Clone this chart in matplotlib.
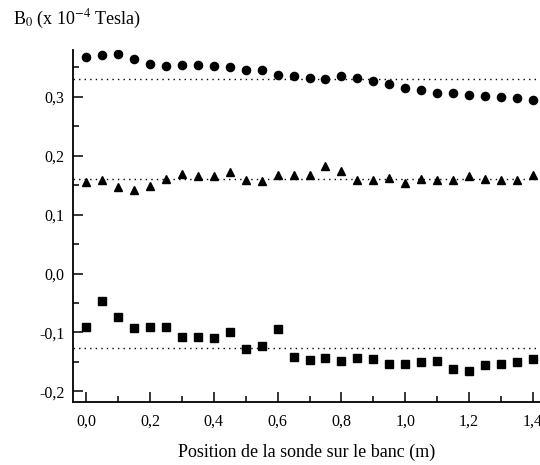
import matplotlib
matplotlib.use('Agg')
import matplotlib.pyplot as plt
from matplotlib.ticker import MultipleLocator, FuncFormatter

plt.rcParams['font.family'] = 'Liberation Serif'
plt.rcParams['mathtext.fontset'] = 'stix'

# position sur le banc (m)
x = [0.00, 0.05, 0.10, 0.15, 0.20, 0.25, 0.30, 0.35, 0.40, 0.45,
     0.50, 0.55, 0.60, 0.65, 0.70, 0.75, 0.80, 0.85, 0.90, 0.95,
     1.00, 1.05, 1.10, 1.15, 1.20, 1.25, 1.30, 1.35, 1.40]

b_circles = [0.368, 0.371, 0.373, 0.364, 0.356, 0.353, 0.354, 0.354, 0.352, 0.350,
             0.346, 0.345, 0.337, 0.335, 0.332, 0.331, 0.336, 0.332, 0.326, 0.321,
             0.315, 0.311, 0.306, 0.307, 0.303, 0.302, 0.300, 0.298, 0.294]

b_triangles = [0.155, 0.158, 0.147, 0.141, 0.149, 0.160, 0.169, 0.165, 0.165, 0.173,
               0.159, 0.157, 0.167, 0.168, 0.167, 0.182, 0.174, 0.159, 0.159, 0.162,
               0.153, 0.160, 0.159, 0.159, 0.165, 0.161, 0.159, 0.159, 0.167]

b_squares = [-0.090, -0.047, -0.074, -0.092, -0.091, -0.091, -0.107, -0.108, -0.109, -0.099,
             -0.128, -0.123, -0.095, -0.142, -0.147, -0.143, -0.148, -0.144, -0.146, -0.153,
             -0.153, -0.151, -0.149, -0.162, -0.166, -0.156, -0.154, -0.151, -0.146]

# valeurs theoriques (lignes pointillees)
theo = [0.330, 0.160, -0.126]

fig = plt.figure(figsize=(5.4, 4.65), dpi=100)
ax = fig.add_axes([0.1346, 0.1348, 0.8654, 0.7577])

ax.plot(x, b_circles, 'o', color='black', markersize=5.9, linestyle='none')
ax.plot(x, b_triangles, '^', color='black', markersize=6.3, linestyle='none')
ax.plot(x, b_squares, 's', color='black', markersize=5.1, linestyle='none')

for v in theo:
    ax.axhline(v, color='black', lw=1.0, linestyle=(0, (1, 3)))

ax.set_xlim(-0.042, 1.422)
ax.set_ylim(-0.2187, 0.3795)

ax.xaxis.set_major_locator(MultipleLocator(0.2))
ax.xaxis.set_minor_locator(MultipleLocator(0.1))
ax.yaxis.set_major_locator(MultipleLocator(0.1))
ax.yaxis.set_minor_locator(MultipleLocator(0.05))

fmt = FuncFormatter(lambda v, p: ('%.1f' % v).replace('.', ',').replace('-0,0', '0,0'))
ax.xaxis.set_major_formatter(fmt)
ax.yaxis.set_major_formatter(fmt)

ax.spines['top'].set_visible(False)
ax.spines['right'].set_visible(False)
ax.spines['left'].set_linewidth(1.3)
ax.spines['bottom'].set_linewidth(1.3)

ax.tick_params(which='major', direction='in', length=7, width=1.1, labelsize=11.5)
ax.tick_params(which='minor', direction='in', length=4, width=1.1)
ax.tick_params(axis='x', pad=8)
ax.tick_params(axis='y', pad=6)

ax.set_xlabel('Position de la sonde sur le banc (m)', fontsize=13, labelpad=10)
fig.text(0.024, 0.958, r'B$_0$ (x 10$^{-4}$ Tesla)', fontsize=13, va='center', ha='left')

fig.savefig('out.png', dpi=100)
